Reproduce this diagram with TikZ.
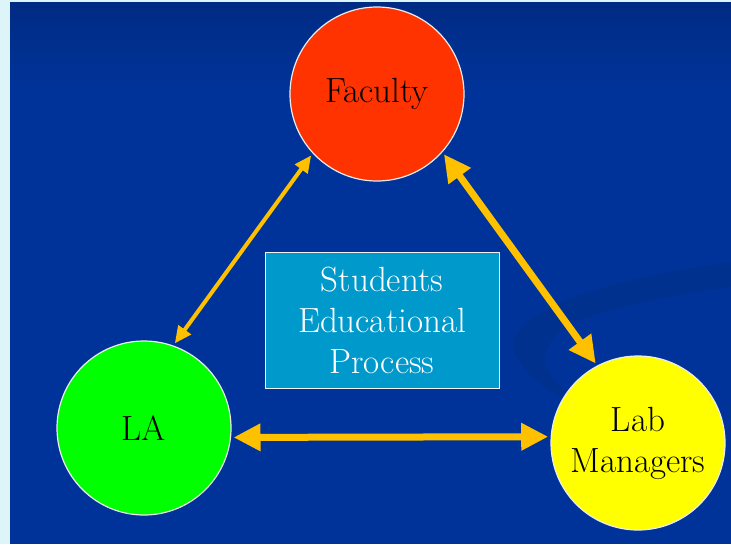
\documentclass[tikz,border=0pt]{standalone}
\usetikzlibrary{arrows.meta}

\definecolor{bgblue}{HTML}{003399}
\definecolor{bgdark}{HTML}{002B84}
\definecolor{swoosh}{HTML}{00318F}
\definecolor{edge}{HTML}{DDF4F8}
\definecolor{facred}{HTML}{FF3300}
\definecolor{lagreen}{HTML}{00FF00}
\definecolor{labyellow}{HTML}{FFFF00}
\definecolor{boxblue}{HTML}{0099CC}
\definecolor{arrowgold}{HTML}{FFC000}

\begin{document}
\begin{tikzpicture}[x=1pt,y=-1pt,
  party/.style={circle,draw=white!85!gray,line width=1.2pt,minimum size=174pt,
    inner sep=0pt,outer sep=3pt,align=center,font=\fontsize{35}{41}\selectfont},
  thinlink/.style={{Triangle[length=17pt,width=15pt]}-{Triangle[length=17pt,width=15pt]},
    draw=arrowgold,line width=4pt},
  thicklink/.style={{Triangle[length=27pt,width=26pt]}-{Triangle[length=27pt,width=26pt]},
    draw=arrowgold,line width=7pt}]
  % Background
  \useasboundingbox (0,0) rectangle (731,544);
  \fill[edge] (0,0) rectangle (731,544);
  \fill[bgblue] (10,2) rectangle (731,544);
  \shade[top color=bgdark,bottom color=bgblue] (10,2) rectangle (731,90);

  % Faint swoosh
  \fill[swoosh] (731,262) .. controls (600,280) and (490,315) .. (518,360)
    .. controls (532,382) and (555,395) .. (572,402)
    -- (572,396) .. controls (545,378) and (525,345) .. (580,320)
    .. controls (630,302) and (690,292) .. (731,287) -- cycle;

  % Circles
  \node[party,fill=facred] (fac) at (377,94) {Faculty};
  \node[party,fill=lagreen] (la) at (144,428) {LA};
  \node[party,fill=labyellow] (lab) at (638,443) {Lab\\Managers};

  % Centre box
  \node[draw=white!90!gray,line width=1pt,fill=boxblue,minimum width=234pt,
    minimum height=136pt,align=center,text=white,
    font=\fontsize{35}{41}\selectfont] (proc) at (382,320)
    {Students\\Educational\\Process};

  % Arrows
  \draw[thinlink] (fac.223) -- (la.70);
  \draw[thicklink] (fac.318) -- (lab.118);
  \draw[thicklink] (la.-6) -- (lab.176);
\end{tikzpicture}
\end{document}
